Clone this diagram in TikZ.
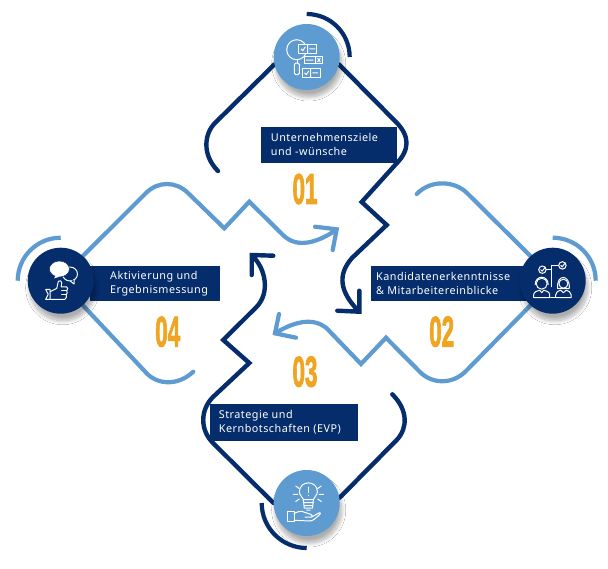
\documentclass[tikz,border=0pt]{standalone}
\usepackage{fontspec}
\setmainfont{Noto Sans}[LetterSpace=4.5]
\newfontfamily\numfont[UprightFont=* Bold,FakeBold=2.5]{Liberation Sans}
\usetikzlibrary{backgrounds,shadows.blur}
\definecolor{navy}{HTML}{052C6B}
\definecolor{skyb}{HTML}{5E9BD0}
\definecolor{amber}{HTML}{F0A522}
\tikzset{
  x=1pt,y=-1pt,
  hub/.style={circle,minimum size=66pt,inner sep=0pt,
    blur shadow={shadow xshift=2pt,shadow yshift=-7pt,shadow blur radius=4pt,shadow blur steps=12,shadow opacity=32}},
  hubdark/.style={hub,fill=navy},
  hublight/.style={hub,fill=skyb},
  lab/.style={text=white,anchor=west,align=left,inner sep=0pt,font=\fontsize{10.8}{14.4}\selectfont},
  num/.style={text=amber,inner sep=0pt,font=\fontsize{43}{43}\selectfont\numfont},
  linkd/.style={draw=navy,line width=4.4pt,line cap=round,line join=miter},
  linkl/.style={draw=skyb,line width=4.2pt,line cap=round,line join=miter},
  ring/.style={line width=4.2pt},
  icon/.style={draw=white,line width=1pt,line cap=round,line join=round},
  cellb/.style={icon,fill=skyb},
}
\begin{document}
\begin{tikzpicture}
\useasboundingbox (0,0) rectangle (608,568);
% hubs
\node[hublight] (ctop) at (306.7,57) {};
\node[hubdark] (cright) at (552.7,280.7) {};
\node[hublight] (cbot) at (306.7,503) {};
\node[hubdark] (cleft) at (60.7,280.7) {};
\begin{pgfonlayer}{background}
\fill[white] (0,0) rectangle (608,568);
% connectors
\draw[linkd] (ctop.193) -- (215,123) .. controls (204,134) and (202,155) .. (218,171);
\draw[linkd] (ctop.347) -- (396,122) .. controls (410,136) and (410,150) .. (396,164) -- (361.7,202) -- (386.7,225) -- (352,258) .. controls (337,275) and (340,292) .. (358.5,311) (359.3,290.7) -- (359.3,311.7) -- (337.3,310.7);
\draw[linkl] (cright.132) -- (467,193) .. controls (455,181) and (431,179) .. (416.7,194);
\draw[linkl] (cright.228) -- (466,371) .. controls (452,385) and (432,384) .. (420,372) -- (386,337.7) -- (361,364) -- (326.7,328.3) .. controls (312,316) and (292,323) .. (275.5,333) (279,314) -- (275,333.3) -- (296,337.7);
\draw[linkd] (cbot.9) -- (396.7,440) .. controls (408,428) and (408,410) .. (392.3,394.3);
\draw[linkd] (cbot.180) -- (213,443) .. controls (200,430) and (200,410) .. (213,397) -- (249.3,363) -- (223.3,340) -- (256.7,306.7) .. controls (270,293) and (266,269) .. (252.5,256) (273.3,255.7) -- (251.7,255) -- (251.7,275);
\draw[linkl] (cleft.312) -- (146.7,373.3) .. controls (158,385) and (178,386) .. (193.3,371.7);
\draw[linkl] (cleft.48) -- (146,193) .. controls (158,181) and (176,181) .. (188,193) -- (224.3,228.3) -- (249.3,201.7) -- (283,235) .. controls (298,250) and (320,241) .. (336,230) (315,226.7) -- (336.7,229.3) -- (332.7,250);
% bands
\fill[navy] (261,126.7) rectangle (396.7,162.7);
\fill[navy] (371,266) rectangle (530,301.3);
\fill[navy] (210,404.3) rectangle (358.3,440.7);
\fill[navy] (90,266) rectangle (220,301.3);
\end{pgfonlayer}
% arcs
\draw[draw=navy,ring] ([yshift=43pt]ctop.center) arc[start angle=90,end angle=0,radius=43pt];
\draw[draw=skyb,ring] ([yshift=43pt]cright.center) arc[start angle=90,end angle=0,radius=43pt];
\draw[draw=navy,ring] ([yshift=-45pt]cbot.center) arc[start angle=270,end angle=180,radius=45pt];
\draw[draw=skyb,ring] ([yshift=43pt]cleft.center) arc[start angle=90,end angle=180,radius=43pt];
% labels
\node[lab] (t1) at (270.7,144.5) {Unternehmensziele\\und -wünsche};
\node[lab] (t2) at (376,283.5) {Kandidatenerkenntnisse\\\& Mitarbeitereinblicke};
\node[lab] (t3) at (218.7,422.5) {Strategie und\\Kernbotschaften (EVP)};
\node[lab] (t4) at (110,283.5) {Aktivierung und\\Ergebnismessung};
\node[num] (n1) at (305,189) {\scalebox{0.52}[1]{01}};
\node[num] (n2) at (441.7,331.7) {\scalebox{0.52}[1]{02}};
\node[num] (n3) at (305,371.7) {\scalebox{0.52}[1]{03}};
\node[num] (n4) at (167.7,331.7) {\scalebox{0.52}[1]{04}};
% icon top
\begin{scope}[shift={(ctop.center)},icon]
\draw (-10,-7.3) circle[radius=10pt];
\draw (-9.5,2.7) -- (-9.5,6);
\draw[rounded corners=1.5pt] (-12.3,6) rectangle (-7.3,17.7);
\draw[cellb] (-8.3,-12.3) rectangle (10,-4);
\draw (1,-12.3) -- (1,-4) (3,-8.2) -- (8,-8.2) (-5.5,-8) -- (-4,-6.3) -- (-1.5,-10);
\draw[cellb] (-2.7,-0.7) rectangle (15.7,6.7);
\draw (9,-0.7) -- (9,6.7) (-0.5,3) -- (6.5,3) (11,1.3) -- (13.5,4.7) (13.5,1.3) -- (11,4.7);
\draw[cellb] (-4.3,11.7) rectangle (13.3,20);
\draw (4,11.7) -- (4,20) (6,15.8) -- (11,15.8) (-2,16) -- (-0.5,17.7) (-0.5,17.7) -- (2,14);
\end{scope}
% icon right
\begin{scope}[shift={(cright.center)},icon]
\draw (-10.3,-11) circle[radius=3.7pt];
\draw (9.7,-15.3) circle[radius=3.7pt];
\draw (-12,-11) -- (-10.5,-9.5) -- (-7.5,-13.5) (8,-15.3) -- (9.5,-13.8) -- (12.5,-17.8);
\draw (-6.6,-11) -- (-1,-11) (-1,-15.3) -- (-1,6) (-1,-15.3) -- (6,-15.3);
\draw (-11,3) circle[radius=5.5pt];
\draw (-17.5,4) .. controls (-17.5,-6) and (-4.5,-6) .. (-4.5,4);
\draw (-19,17) -- (-19,14) .. controls (-19,11) and (-15,10) .. (-13,9.5) -- (-11,12) -- (-9,9.5) .. controls (-7,10) and (-3,11) .. (-3,14) -- (-3,17) -- cycle;
\draw (-2,17) -- (3,17);
\draw (10.7,3) circle[radius=4.5pt];
\draw (5,8) .. controls (3,-7) and (18,-7) .. (16.5,8) -- (5,8);
\draw (3,17) -- (3,14) .. controls (3,11) and (6,10) .. (8,9.5) -- (10.7,12) -- (13.5,9.5) .. controls (15,10) and (18.5,11) .. (18.5,14) -- (18.5,17) -- cycle;
\end{scope}
% icon bottom
\begin{scope}[shift={(cbot.center)},icon]
\draw (-3.3,-3.5) .. controls (-4,-7) and (-7.5,-7) .. (-7.3,-11.5) .. controls (-7,-23) and (10.5,-23) .. (10.7,-11.5) .. controls (10.7,-7) and (7.5,-7) .. (6.7,-3.5) -- cycle;
\draw (-3.3,-0.5) -- (6.7,-0.5) (-2.5,2.5) -- (5.9,2.5) (-3.3,-3.5) -- (-2.5,5) -- (5.9,5) -- (6.7,-3.5) (0,7.2) -- (3.4,7.2);
\draw (1.7,-16) -- (1.7,-10.5) (1.7,-8) -- (1.7,-7.6);
\draw (-13.3,-8.7) -- (-9,-8.7) (12.5,-8.7) -- (17,-8.7) (-11,-17) -- (-7.5,-14.5) (14.5,-17) -- (11,-14.5) (-11,-1.5) -- (-7.5,-4) (14.5,-1.5) -- (11,-4);
\draw (-19,8.3) rectangle (-12.7,18.3);
\draw (-12.7,10.7) .. controls (-9,8.5) and (-7,8.3) .. (-5,8.3) -- (4,11.3) .. controls (6,12) and (6,14) .. (5,14) -- (-1.7,14) (5,14) -- (12.7,9.7) .. controls (14,9.5) and (14,10.5) .. (13,11.5) .. controls (10,14.5) and (6,18) .. (3.3,18) -- (-12.7,17.3);
\end{scope}
% icon left
\begin{scope}[shift={(cleft.center)},icon]
\draw (9.3,-6.7) ellipse[x radius=7.5pt,y radius=7pt];
\fill[navy] (10,0.5) -- (13.3,3.3) -- (13.5,-1) -- cycle;
\draw (9.5,0.3) -- (13.3,3.3) -- (13.5,-1);
\fill[white,draw=navy,line width=0.5pt] (-1.3,-11.7) ellipse[x radius=10pt,y radius=8pt];
\fill[white] (-5,-5) -- (-6.7,-2.3) -- (-1,-4) -- cycle;
\draw[fill=navy] (-15,8.7) -- (-10.7,8.7) -- (-10.7,18.7) -- (-15,18.7) -- (-12.5,13.5) -- cycle;
\draw (-10.7,11) -- (-4,7.7) -- (-2.3,0.5) .. controls (-1,-0.5) and (1,0) .. (1,2) -- (0.5,6.2) -- (6,6.2) .. controls (7.5,6.5) and (7,9) .. (6,10) .. controls (7,11) and (6.5,13.5) .. (5.5,14) .. controls (6,15.5) and (6,18) .. (4,18.7) -- (-10.7,18.7);
\draw (1,10) -- (6,10) (1,14) -- (5.5,14);
\end{scope}
\end{tikzpicture}
\end{document}
